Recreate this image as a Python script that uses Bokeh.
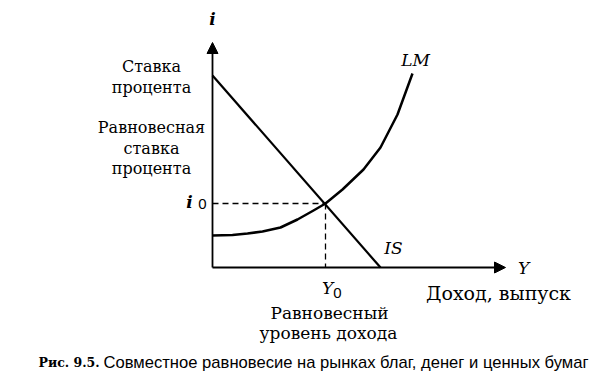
from bokeh.plotting import figure
from bokeh.models import Range1d, Arrow, NormalHead, ColumnDataSource
from bokeh.core.properties import value
from bokeh.embed import file_html
from bokeh.resources import INLINE

# Conceptual IS-LM diagram (arbitrary units: income Y, interest rate i)
is_y = [0, 168]
is_i = [192, 0]

lm_y = [0, 20, 35, 50, 68, 85, 101, 113, 130, 151, 168, 185, 200]
lm_i = [32, 32.5, 34, 36, 40, 48, 57, 64, 78, 98, 120, 153, 194]

Y0 = 113
i0 = 64
axis_y_max = 293
axis_i_max = 225

p = figure(width=610, height=376, output_backend="svg", toolbar_location=None,
           x_range=Range1d(-212, 398), y_range=Range1d(-109, 267),
           min_border=0, outline_line_color=None, background_fill_color="white")
p.grid.visible = False
p.axis.visible = False

# axes with arrows
p.add_layout(Arrow(end=NormalHead(size=11, fill_color="black", line_color="black", line_width=1),
                   x_start=0, y_start=0, x_end=0, y_end=axis_i_max, line_width=1.8))
p.add_layout(Arrow(end=NormalHead(size=11, fill_color="black", line_color="black", line_width=1),
                   x_start=0, y_start=0, x_end=axis_y_max, y_end=0, line_width=1.8))

# dashed guides
p.line([0, Y0], [i0, i0], line_color="black", line_width=1.3, line_dash="6 4")
p.line([Y0, Y0], [i0, 0], line_color="black", line_width=1.3, line_dash="6 4")

# curves
p.line(is_y, is_i, line_color="black", line_width=2.2)
p.line(lm_y, lm_i, line_color="black", line_width=2.5, line_join="round")

serif = value("DejaVu Serif")

# left text labels
left_src = ColumnDataSource(dict(
    x=[-61, -61, -61, -61, -61],
    y=[201, 180, 140, 119, 99],
    t=["Ставка", "процента", "Равновесная", "ставка", "процента"]))
p.text("x", "y", text="t", source=left_src, text_font=serif, text_font_size="16px",
       text_align="center", text_baseline="middle", text_color="black")

# italic curve / axis labels
it_src = ColumnDataSource(dict(
    x=[203, 181, 311, 115],
    y=[208, 20, 0, -20],
    t=["LM", "IS", "Y", "Y"]))
p.text("x", "y", text="t", source=it_src, text_font=serif, text_font_size="17px",
       text_font_style="italic", text_align="center", text_baseline="middle",
       text_color="black")

ib_src = ColumnDataSource(dict(x=[0, -23], y=[249, 66], t=["i", "i"]))
p.text("x", "y", text="t", source=ib_src, text_font=serif, text_font_size="17px",
       text_font_style="bold italic", text_align="center", text_baseline="middle",
       text_color="black")

sub_src = ColumnDataSource(dict(x=[-10, 125], y=[64, -25], t=["0", "0"]))
p.text("x", "y", text="t", source=sub_src, text_font=value("Liberation Sans"),
       text_font_size="15px", text_align="center", text_baseline="middle", text_color="black")

bottom_src = ColumnDataSource(dict(
    x=[117, 116],
    y=[-45, -65],
    t=["Равновесный", "уровень дохода"]))
p.text("x", "y", text="t", source=bottom_src, text_font=serif, text_font_size="17px",
       text_align="center", text_baseline="middle", text_color="black")
p.text([286], [-25], text=["Доход, выпуск"], text_font=serif, text_font_size="19px",
       text_align="center", text_baseline="middle", text_color="black")

# caption
p.text([-174], [-95], text=["Рис. 9.5."], text_font=serif, text_font_size="12.5px",
       text_font_style="bold", text_align="left", text_baseline="middle", text_color="black")
p.text([-109], [-95], text=["Совместное равновесие на рынках благ, денег и ценных бумаг"],
       text_font=value("Liberation Sans"), text_font_size="16.6px",
       text_align="left", text_baseline="middle", text_color="black")

open("out.html", "w").write(file_html(p, INLINE))
